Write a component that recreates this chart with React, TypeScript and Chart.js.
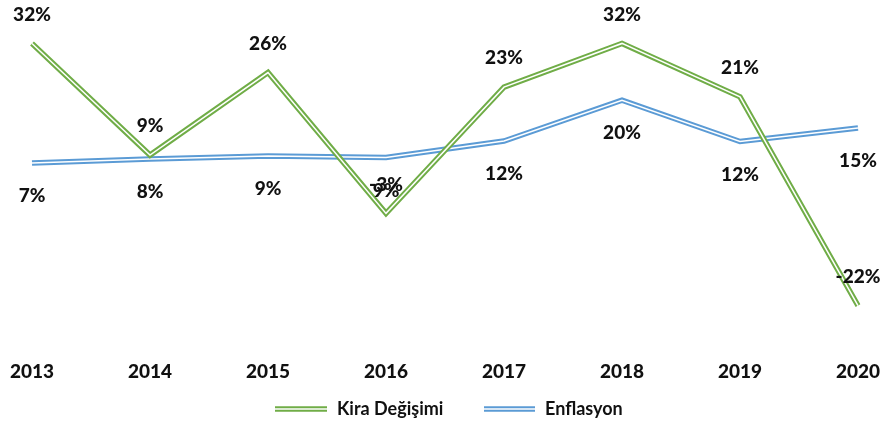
import React, { useEffect, useRef } from "react";
import { Chart, registerables } from "chart.js";

Chart.register(...registerables);

const years = ["2013", "2014", "2015", "2016", "2017", "2018", "2019", "2020"];
const kiraDegisimi = [32, 9, 26, -3, 23, 32, 21, -22];
const enflasyon = [7.4, 8.2, 8.8, 8.5, 11.9, 20.3, 11.8, 14.6];
const seriesNames = ["Kira Değişimi", "Enflasyon"];
const seriesColors = ["#70AD47", "#5B9BD5"];

const FONT = "Lato, 'Liberation Sans', sans-serif";
const TEXT = "#111111";

const doubleLinePlugin = {
  id: "doubleLine",
  afterDatasetDraw(chart: any, args: any) {
    const pts = args.meta.data;
    if (!pts || !pts.length) return;
    const ctx = chart.ctx;
    ctx.save();
    ctx.beginPath();
    pts.forEach((p: any, i: number) => {
      if (i === 0) ctx.moveTo(p.x, p.y);
      else ctx.lineTo(p.x, p.y);
    });
    ctx.strokeStyle = "#ffffff";
    ctx.lineWidth = 1.5;
    ctx.lineJoin = "miter";
    ctx.stroke();
    ctx.restore();
  },
};

const labelsPlugin = {
  id: "pointLabels",
  afterDatasetsDraw(chart: any) {
    const ctx = chart.ctx;
    ctx.save();
    ctx.font = `900 19px ${FONT}`;
    ctx.fillStyle = TEXT;
    ctx.textAlign = "center";
    ctx.textBaseline = "middle";
    chart.data.datasets.forEach((ds: any, di: number) => {
      const meta = chart.getDatasetMeta(di);
      meta.data.forEach((p: any, i: number) => {
        const txt = Math.round(ds.data[i]) + "%";
        const dy = di === 0 ? -29 : 33;
        ctx.fillText(txt, p.x, p.y + dy);
      });
    });
    ctx.restore();
  },
};

const legendPlugin = {
  id: "customLegend",
  afterDraw(chart: any) {
    const ctx = chart.ctx;
    const items = [
      { x0: 275, x1: 327, tx: 337 },
      { x0: 484, x1: 535, tx: 545 },
    ];
    const y = 409;
    ctx.save();
    items.forEach((it, i) => {
      ctx.strokeStyle = seriesColors[i];
      ctx.lineWidth = 5.5;
      ctx.beginPath();
      ctx.moveTo(it.x0, y);
      ctx.lineTo(it.x1, y);
      ctx.stroke();
      ctx.strokeStyle = "#ffffff";
      ctx.lineWidth = 1.5;
      ctx.beginPath();
      ctx.moveTo(it.x0, y);
      ctx.lineTo(it.x1, y);
      ctx.stroke();
      ctx.font = `bold 18px ${FONT}`;
      ctx.fillStyle = TEXT;
      ctx.textAlign = "left";
      ctx.textBaseline = "middle";
      ctx.fillText(seriesNames[i], it.tx, y);
    });
    ctx.restore();
  },
};

export default function App() {
  const canvasRef = useRef<HTMLCanvasElement | null>(null);

  useEffect(() => {
    document.body.style.margin = "0";
    const canvas = canvasRef.current;
    if (!canvas) return;
    const chart = new Chart(canvas, {
      type: "line",
      data: {
        labels: years,
        datasets: [
          {
            label: seriesNames[0],
            data: kiraDegisimi,
            borderColor: seriesColors[0],
            backgroundColor: seriesColors[0],
            borderWidth: 5.5,
            pointRadius: 0,
            pointHoverRadius: 0,
            tension: 0,
            fill: false,
          },
          {
            label: seriesNames[1],
            data: enflasyon,
            borderColor: seriesColors[1],
            backgroundColor: seriesColors[1],
            borderWidth: 5.5,
            pointRadius: 0,
            pointHoverRadius: 0,
            tension: 0,
            fill: false,
          },
        ],
      },
      options: {
        animation: false,
        responsive: false,
        maintainAspectRatio: false,
        layout: { padding: { top: 24, left: 32, right: 22, bottom: 34 } },
        plugins: {
          legend: { display: false },
          tooltip: { enabled: false },
        },
        scales: {
          x: {
            offset: false,
            grid: { display: false, drawTicks: false },
            border: { display: false },
            afterFit: (scale: any) => {
              scale.paddingLeft = 0;
              scale.paddingRight = 0;
            },
            ticks: {
              padding: 6,
              maxRotation: 0,
              autoSkip: false,
              color: TEXT,
              font: { family: FONT, size: 19, weight: "900" },
            },
          },
          y: {
            display: false,
            min: -32,
            max: 36,
          },
        },
      },
      plugins: [doubleLinePlugin, labelsPlugin, legendPlugin],
    });
    return () => chart.destroy();
  }, []);

  return (
    <div style={{ position: "absolute", left: 0, top: 0, width: 880, height: 423, background: "#fff" }}>
      <canvas ref={canvasRef} width={880} height={423} style={{ width: 880, height: 423 }} />
    </div>
  );
}
